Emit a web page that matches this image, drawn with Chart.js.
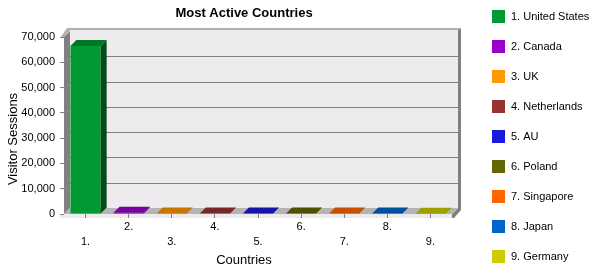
<!DOCTYPE html>
<html>
<head>
<meta charset="utf-8">
<script src="https://cdn.jsdelivr.net/npm/chart.js@4/dist/chart.umd.min.js"></script>
<style>
body { margin: 0; background: #fff; }
</style>
</head>
<body>
<canvas id="chart" width="609" height="274"></canvas>
<script>
const countries = ['United States', 'Canada', 'UK', 'Netherlands', 'AU', 'Poland', 'Singapore', 'Japan', 'Germany'];
const tickLabels = ['1.', '2.', '3.', '4.', '5.', '6.', '7.', '8.', '9.'];
const sessions = [66400, 500, 220, 200, 180, 170, 160, 150, 140];
const colors = ['#009933', '#9900cc', '#ff9900', '#993333', '#1a1adb', '#666600', '#ff6600', '#0066cc', '#cccc00'];

const font = "'Liberation Sans', Arial, sans-serif";
const depth = 6;

function shade(hex, f) {
    const n = parseInt(hex.slice(1), 16);
    const r = Math.round(((n >> 16) & 255) * f);
    const g = Math.round(((n >> 8) & 255) * f);
    const b = Math.round((n & 255) * f);
    return 'rgb(' + r + ',' + g + ',' + b + ')';
}

function poly(ctx, pts, fill) {
    ctx.beginPath();
    ctx.moveTo(pts[0][0], pts[0][1]);
    for (var i = 1; i < pts.length; i++) ctx.lineTo(pts[i][0], pts[i][1]);
    ctx.closePath();
    ctx.fillStyle = fill;
    ctx.fill();
}

// box, walls and back gridlines
const box3d = {
    id: 'box3d',
    beforeDraw(chart) {
        const ctx = chart.ctx;
        const a = chart.chartArea;
        const y = chart.scales.y;
        const L = a.left, R = a.right, T = a.top, B = a.bottom, D = depth;
        ctx.save();
        // front edge of the floor
        ctx.fillStyle = '#eeebee';
        ctx.fillRect(L - 4, B, R - L + 4, 4);
        // back wall
        ctx.fillRect(L + D, T - D - 1, R - L, B - T + 1);
        // right slab
        poly(ctx, [[R + D, T - D - 1], [R + D + 3, T - D - 3], [R + D + 3, B - D + 2], [R + 2, B + 4], [R, B + 4], [R, B], [R + D, B - D]], '#808080');
        // top slab
        poly(ctx, [[L - 3, T], [L + D - 3, T - D - 3], [R + D + 3, T - D - 3], [R + D, T - D - 1], [L + D, T - D - 1], [L, T]], '#b0b0b0');
        // left wall
        poly(ctx, [[L, T], [L + D, T - D], [L + D, B - D], [L, B]], '#808080');
        // gridlines
        ctx.lineWidth = 1;
        y.ticks.forEach(function (t) {
            if (t.value <= y.min || t.value >= y.max) return;
            const py = Math.round(y.getPixelForValue(t.value)) + 0.5;
            ctx.strokeStyle = '#808080';
            ctx.beginPath();
            ctx.moveTo(L + D, py - D);
            ctx.lineTo(R + D, py - D);
            ctx.stroke();
            ctx.strokeStyle = '#8e8e8e';
            ctx.beginPath();
            ctx.moveTo(L, py);
            ctx.lineTo(L + D, py - D);
            ctx.stroke();
        });
        // floor
        poly(ctx, [[L, B], [L + D, B - D], [R + D, B - D], [R, B]], '#b4b4b4');
        ctx.restore();
    },
    afterDatasetsDraw(chart) {
        const ctx = chart.ctx;
        const meta = chart.getDatasetMeta(0);
        const D = depth;
        ctx.save();
        meta.data.forEach(function (bar, i) {
            const p = bar.getProps(['x', 'y', 'base', 'width'], true);
            const l = p.x - p.width / 2, r = p.x + p.width / 2;
            poly(ctx, [[r, p.y], [r + D, p.y - D], [r + D, p.base - D], [r, p.base]], shade(colors[i], 0.5));
            poly(ctx, [[l, p.y], [l + D, p.y - D], [r + D, p.y - D], [r, p.y]], shade(colors[i], 0.78));
        });
        ctx.restore();
    },
    afterDraw(chart) {
        const ctx = chart.ctx;
        ctx.save();
        // y axis title
        ctx.fillStyle = '#000';
        ctx.font = '13px ' + font;
        ctx.textAlign = 'center';
        ctx.textBaseline = 'middle';
        ctx.translate(13.5, 139);
        ctx.rotate(-Math.PI / 2);
        ctx.fillText('Visitor Sessions', 0, 0);
        ctx.restore();
        // legend
        ctx.save();
        ctx.font = '11px ' + font;
        ctx.textBaseline = 'middle';
        ctx.textAlign = 'left';
        for (var i = 0; i < countries.length; i++) {
            ctx.fillStyle = colors[i];
            ctx.fillRect(492, 10 + 30 * i, 13, 13);
            ctx.fillStyle = '#000';
            ctx.fillText(tickLabels[i] + ' ' + countries[i], 511, 17 + 30 * i);
        }
        ctx.restore();
    }
};

Chart.defaults.font.family = font;
Chart.defaults.color = '#000';

new Chart(document.getElementById('chart').getContext('2d'), {
    type: 'bar',
    data: {
        labels: tickLabels,
        datasets: [{
            data: sessions,
            backgroundColor: colors,
            borderWidth: 0,
            barPercentage: 0.7,
            categoryPercentage: 1
        }]
    },
    options: {
        responsive: false,
        animation: false,
        layout: { padding: { left: 0, right: 121, top: 0, bottom: 0 } },
        plugins: {
            legend: { display: false },
            tooltip: { enabled: false },
            title: {
                display: true,
                text: 'Most Active Countries',
                font: { size: 13, weight: 'bold' },
                color: '#000',
                padding: { top: 5.2, bottom: 16.2 }
            },
            subtitle: {
                display: true,
                position: 'bottom',
                text: 'Countries',
                font: { size: 13, weight: 'normal' },
                color: '#000',
                padding: { top: 0, bottom: 6 }
            }
        },
        scales: {
            x: {
                grid: { display: true, drawOnChartArea: false, drawTicks: true, tickLength: 4, color: '#808080', offset: false },
                border: { display: false },
                ticks: {
                    autoSkip: false,
                    maxRotation: 0,
                    padding: 1,
                    font: { size: 11, lineHeight: 15 / 11 },
                    callback: function (v, i) {
                        return i % 2 === 0 ? ['', tickLabels[i]] : [tickLabels[i]];
                    }
                },
                afterFit: function (s) { s.height = 38.4; }
            },
            y: {
                min: 0,
                max: 70000,
                grid: { display: true, drawOnChartArea: false, drawTicks: true, tickLength: 4, color: '#808080' },
                border: { display: false },
                ticks: {
                    stepSize: 10000,
                    padding: 5,
                    font: { size: 11 },
                    callback: function (v) { return v.toLocaleString('en-US'); }
                },
                afterFit: function (s) { s.width = 64; }
            },
            y2: {
                position: 'right',
                grid: { display: false },
                border: { display: false },
                ticks: { display: false },
                afterFit: function (s) { s.width = 36; }
            }
        }
    },
    plugins: [box3d]
});
</script>
</body>
</html>
